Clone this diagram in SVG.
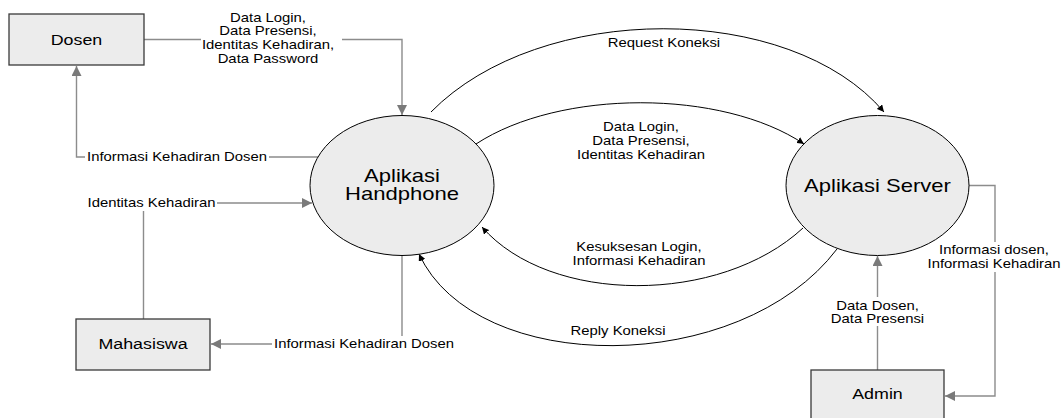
<svg xmlns="http://www.w3.org/2000/svg" width="1061" height="418" viewBox="0 0 1061 418">
<style>
text{font-family:"Liberation Sans",Arial,sans-serif;fill:#000;text-anchor:middle}
.lbl{font-size:12.5px}
.ent{font-size:15px}
.prc{font-size:18.5px}
.box{fill:#ececec;stroke:#3a3a3a;stroke-width:1.3}
.proc{fill:#ececec;stroke:#000;stroke-width:1}
.gl{fill:none;stroke:#8c8c8c;stroke-width:1.4}
.bl{fill:none;stroke:#000;stroke-width:1}
.bg{fill:#fff}
</style>
<defs>
<marker id="ga" viewBox="0 0 10 10" refX="10" refY="5" markerWidth="10" markerHeight="10" markerUnits="userSpaceOnUse" orient="auto">
<path d="M0,0 L10,5 L0,10 z" fill="#7a7a7a"/>
</marker>
<marker id="ba" viewBox="0 0 10 10" refX="10" refY="5" markerWidth="7" markerHeight="7" markerUnits="userSpaceOnUse" orient="auto">
<path d="M0,0 L10,5 L0,10 z" fill="#000"/>
</marker>
</defs>
<g id="connectors">
<path class="gl" d="M144,39.5 H402 V115" marker-end="url(#ga)"/>
<rect class="bg" x="201" y="10" width="141" height="58"/>
<text class="lbl" transform="translate(268 21.5) scale(1.19 1)"><tspan x="0">Data Login,</tspan><tspan x="0" dy="14">Data Presensi,</tspan><tspan x="0" dy="14">Identitas Kehadiran,</tspan><tspan x="0" dy="14">Data Password</tspan></text>

<path class="gl" d="M318,157 H76.5 V66" marker-end="url(#ga)"/>
<rect class="bg" x="85" y="149" width="184" height="16"/>
<text class="lbl" transform="translate(177 161.3) scale(1.19 1)">Informasi Kehadiran Dosen</text>

<path class="gl" d="M143.5,319 V203 H312" marker-end="url(#ga)"/>
<rect class="bg" x="86" y="195" width="131" height="16"/>
<text class="lbl" transform="translate(151.5 207.3) scale(1.19 1)">Identitas Kehadiran</text>

<path class="gl" d="M402,255 V344 H211" marker-end="url(#ga)"/>
<rect class="bg" x="272" y="336" width="186" height="16"/>
<text class="lbl" transform="translate(364 348.3) scale(1.19 1)">Informasi Kehadiran Dosen</text>

<path class="gl" d="M969,185.5 H995 V396 H945" marker-end="url(#ga)"/>
<rect class="bg" x="926" y="242" width="135" height="30"/>
<text class="lbl" transform="translate(994 254) scale(1.19 1)"><tspan x="0">Informasi dosen,</tspan><tspan x="0" dy="14">Informasi Kehadiran</tspan></text>

<path class="gl" d="M877.5,370 V256" marker-end="url(#ga)"/>
<rect class="bg" x="838" y="297" width="80" height="29"/>
<text class="lbl" transform="translate(877.5 310.3) scale(1.19 1)"><tspan x="0">Data Dosen,</tspan><tspan x="0" dy="12.5">Data Presensi</tspan></text>

<path class="bl" d="M431,112 C540,1 790,1 884,112" marker-end="url(#ba)"/>
<text class="lbl" transform="translate(664 47) scale(1.19 1)">Request Koneksi</text>

<path class="bl" d="M476,144 C560,89 722,89 804,144" marker-end="url(#ba)"/>
<text class="lbl" transform="translate(641 131) scale(1.19 1)"><tspan x="0">Data Login,</tspan><tspan x="0" dy="14">Data Presensi,</tspan><tspan x="0" dy="14">Identitas Kehadiran</tspan></text>

<path class="bl" d="M803,228 C720,305 550,305 482,227" marker-end="url(#ba)"/>
<text class="lbl" transform="translate(639 251) scale(1.19 1)"><tspan x="0">Kesuksesan Login,</tspan><tspan x="0" dy="14">Informasi Kehadiran</tspan></text>

<path class="bl" d="M837,249 C740,377 476,377 419,254" marker-end="url(#ba)"/>
<text class="lbl" transform="translate(618 335) scale(1.19 1)">Reply Koneksi</text>
</g>
<g id="dosen">
<rect class="box" x="9" y="14" width="135" height="51"/>
<text class="ent" transform="translate(76.5 44.7) scale(1.19 1)">Dosen</text>
</g>
<g id="mahasiswa">
<rect class="box" x="76" y="319" width="134" height="51"/>
<text class="ent" transform="translate(143 349) scale(1.19 1)">Mahasiswa</text>
</g>
<g id="admin">
<rect class="box" x="811" y="370" width="133" height="51"/>
<text class="ent" transform="translate(877.5 398.5) scale(1.19 1)">Admin</text>
</g>
<g id="aplikasi-handphone">
<ellipse class="proc" cx="402" cy="185.5" rx="92" ry="70"/>
<text class="prc" transform="translate(402 181.5) scale(1.19 1)"><tspan x="0">Aplikasi</tspan><tspan x="0" dy="18.5">Handphone</tspan></text>
</g>
<g id="aplikasi-server">
<ellipse class="proc" cx="877.5" cy="185.5" rx="91.5" ry="70"/>
<text class="prc" transform="translate(877.5 192) scale(1.19 1)">Aplikasi Server</text>
</g>
</svg>
